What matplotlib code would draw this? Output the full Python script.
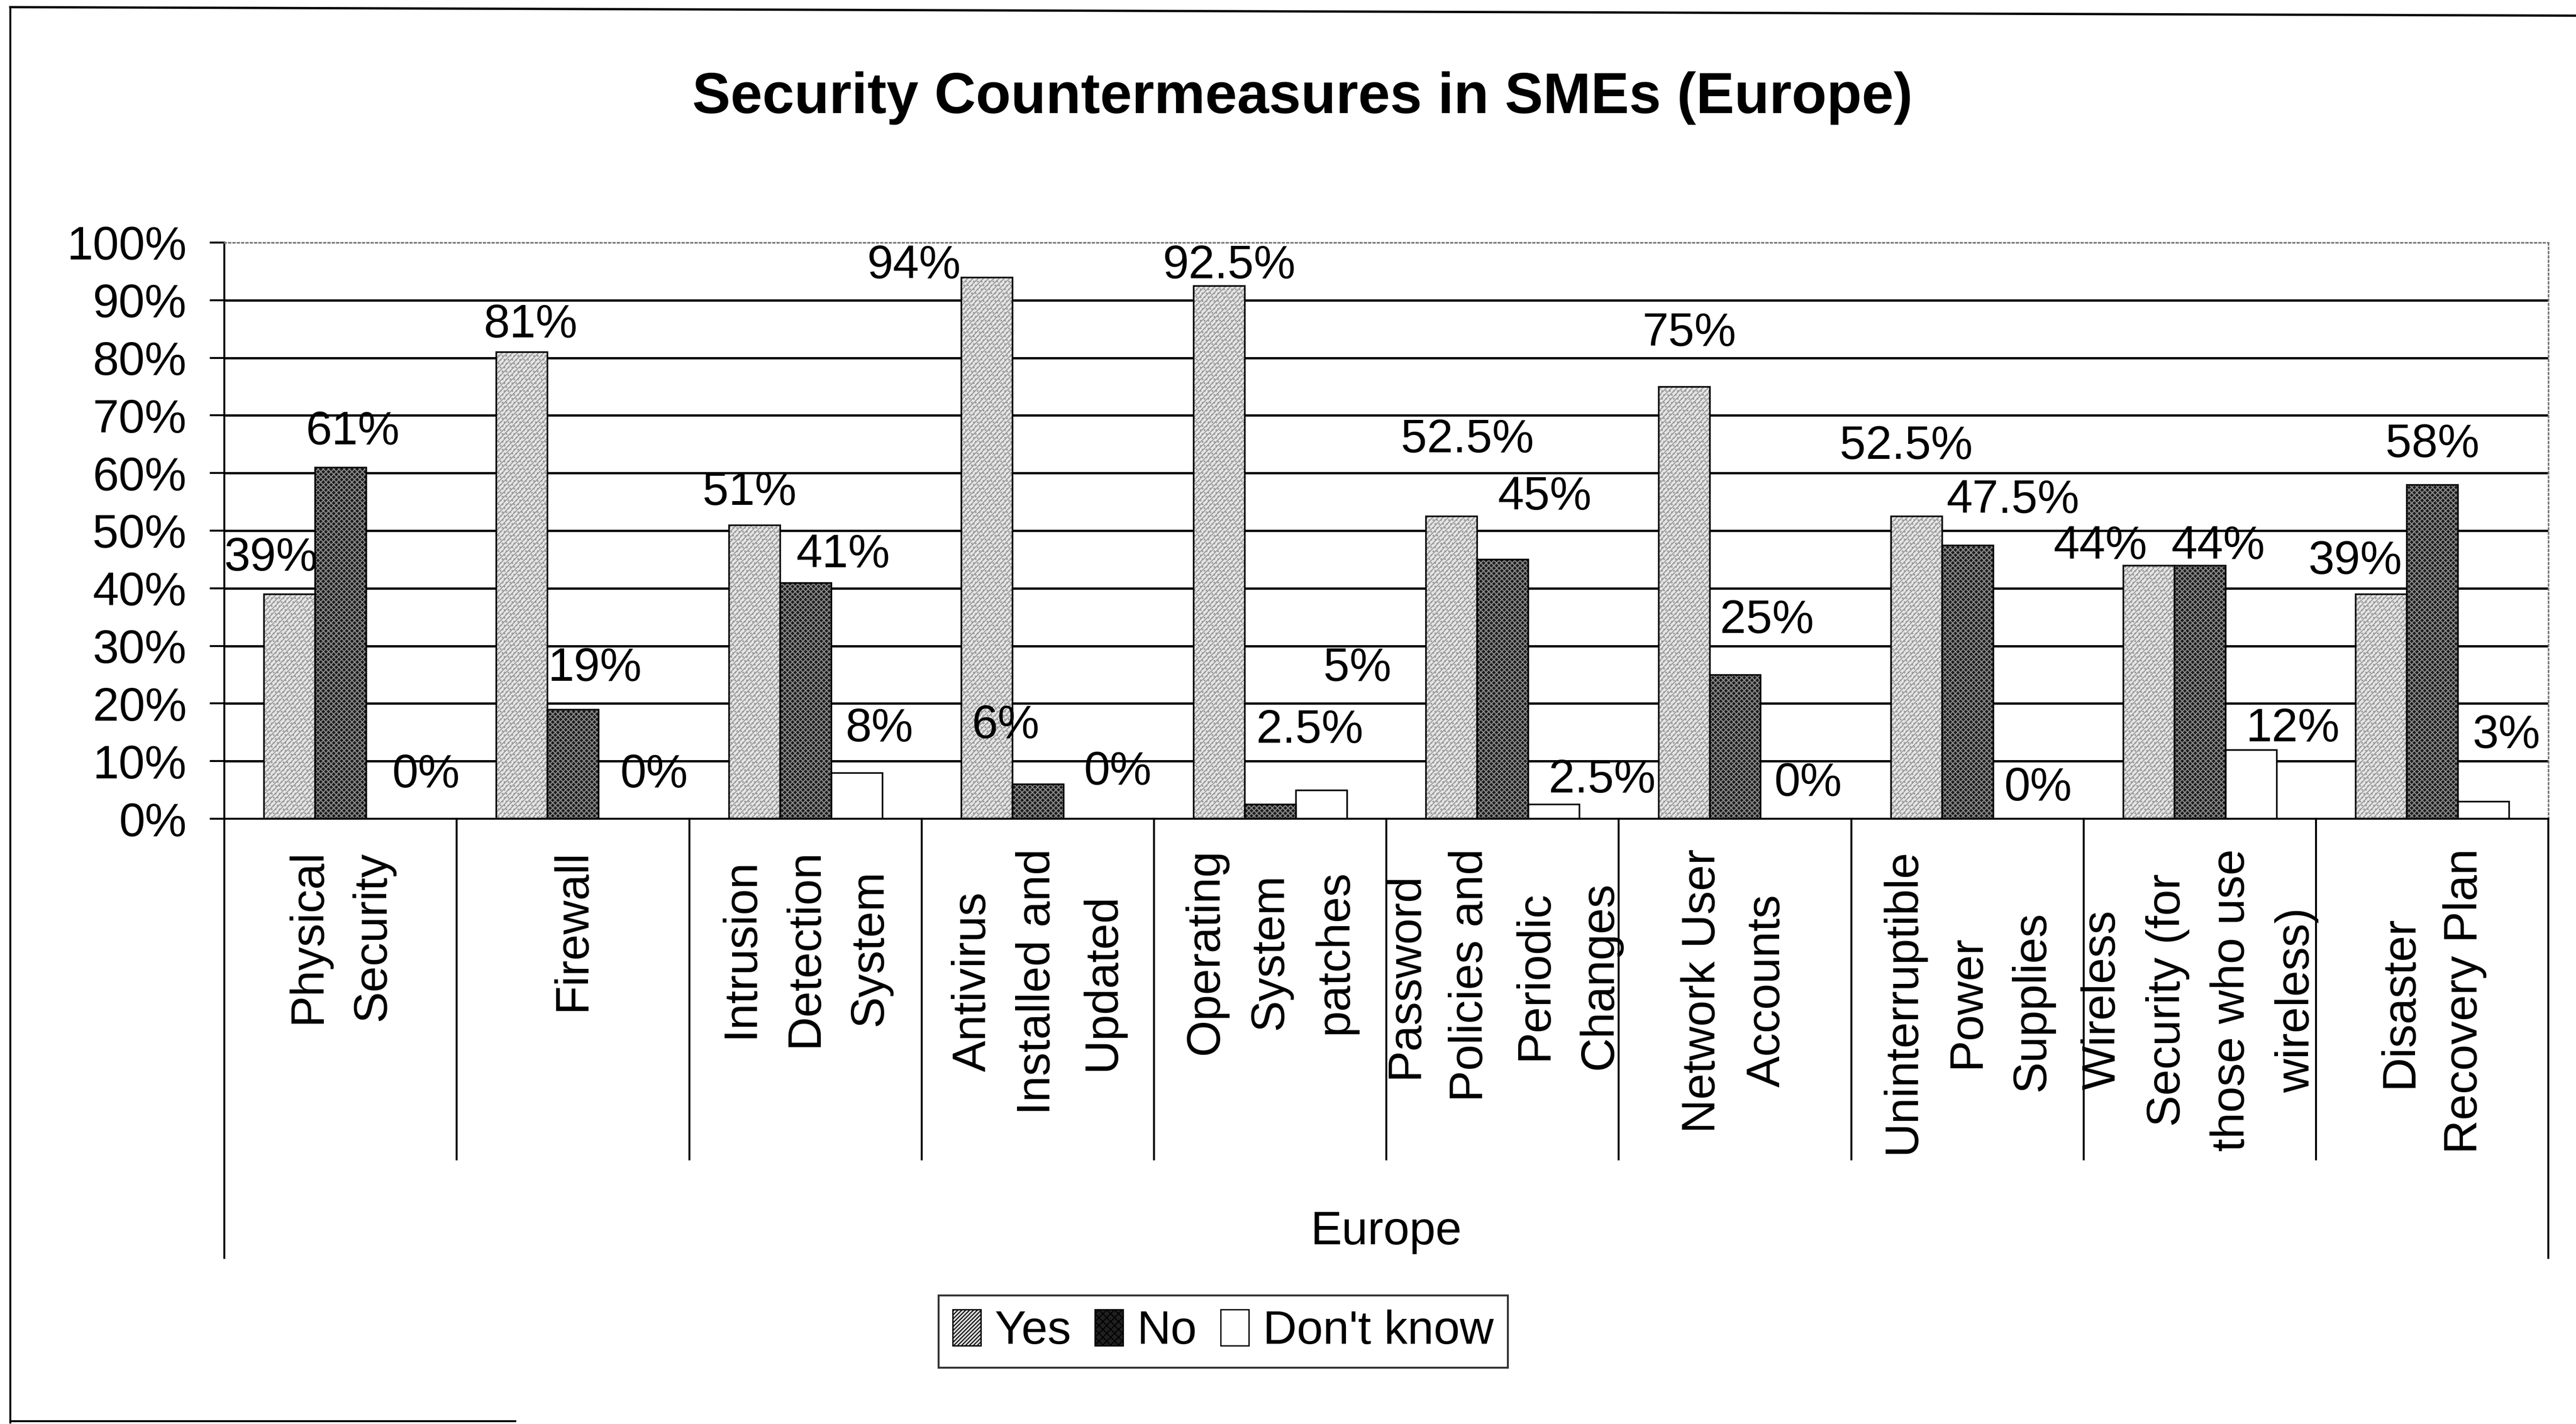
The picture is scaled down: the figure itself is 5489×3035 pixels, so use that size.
import numpy as np
import matplotlib
matplotlib.use("Agg")
import matplotlib.pyplot as plt
from matplotlib.patches import Patch
from matplotlib.lines import Line2D

plt.rcParams['font.family'] = ['Liberation Sans', 'DejaVu Sans']
plt.rcParams['hatch.linewidth'] = 1.6

# data
categories = [
    "Physical\nSecurity",
    "Firewall",
    "Intrusion\nDetection\nSystem",
    "Antivirus\nInstalled and\nUpdated",
    "Operating\nSystem\npatches",
    "Password\nPolicies and\nPeriodic\nChanges",
    "Network User\nAccounts",
    "Uninterruptible\nPower\nSupplies",
    "Wireless\nSecurity (for\nthose who use\nwireless)",
    "Disaster\nRecovery Plan",
]
yes = [39, 81, 51, 94, 92.5, 52.5, 75, 52.5, 44, 39]
no = [61, 19, 41, 6, 2.5, 45, 25, 47.5, 44, 58]
dont_know = [0, 0, 8, 0, 5, 2.5, 0, 0, 12, 3]
series_names = ["Yes", "No", "Don't know"]
group_label = "Europe"
title = "Security Countermeasures in SMEs (Europe)"

# where the (hand-moved) value labels sit: x in category units, y in %
label_x = [
    [0.20, 0.554, 0.866], [1.318, 1.594, 1.849], [2.259, 2.662, 2.818],
    [2.966, 3.362, 3.843], [4.324, 4.67, 4.876], [5.349, 5.681, 5.929],
    [6.304, 6.637, 6.813], [7.237, 7.697, 7.803], [8.072, 8.58, 8.90],
    [9.169, 9.50, 9.818],
]
label_y = [
    [45.2, 67.1, 7.6], [85.7, 26.1, 7.6], [56.6, 45.8, 15.6],
    [95.9, 16.1, 8.1], [95.9, 15.3, 26.1], [65.7, 55.8, 6.7],
    [84.2, 34.4, 6.1], [64.6, 55.2, 5.3], [47.2, 47.2, 15.6],
    [44.6, 64.9, 14.4],
]

def pct(v):
    return ("%g" % v) + "%"

fig = plt.figure(figsize=(54.89, 30.35), dpi=100)
ax = fig.add_axes([0.0871, 0.4250, 0.9022, 0.4047])

n = len(categories)
x = np.arange(n) + 0.5
w = 0.22

styles = [
    dict(face="#e6e6e6", hatch="///..", hcol="#9a9a9a"),
    dict(face="#1c1c1c", hatch="xxx", hcol="#8c8c8c"),
    dict(face="white", hatch=None, hcol="white"),
]

for k, vals in enumerate([yes, no, dont_know]):
    s = styles[k]
    xs = x + (k - 1) * w
    ax.bar(xs, vals, width=w, color=s["face"], hatch=s["hatch"],
           edgecolor=s["hcol"], linewidth=0, zorder=2)
    ax.bar(xs, vals, width=w, fill=False, edgecolor="black",
           linewidth=2.5, zorder=3)

for i in range(n):
    for k, vals in enumerate([yes, no, dont_know]):
        ax.text(label_x[i][k], label_y[i][k], pct(vals[i]), fontsize=72,
                ha="center", va="center", zorder=4)

ax.set_xlim(0, n)
ax.set_ylim(0, 100)
ax.set_yticks(range(0, 101, 10))
ax.set_yticklabels([f"{v}%" for v in range(0, 101, 10)], fontsize=72)
ax.tick_params(axis="y", length=22, width=3, pad=36, direction="out")
ax.set_xticks([])

for v in range(10, 100, 10):
    ax.axhline(v, color="black", lw=3.5, zorder=1)

ax.spines["left"].set_linewidth(3)
ax.spines["bottom"].set_linewidth(3)
ax.spines["top"].set_color("#777777")
ax.spines["top"].set_linestyle(":")
ax.spines["top"].set_linewidth(2.5)
ax.spines["right"].set_color("#777777")
ax.spines["right"].set_linestyle(":")
ax.spines["right"].set_linewidth(2.5)

# multi-level category axis below the plot
tr = ax.get_xaxis_transform()
for b in range(1, n):
    ax.add_line(Line2D([b, b], [0, -0.591], transform=tr, color="black",
                       lw=3, clip_on=False))
for b in [0, n]:
    ax.add_line(Line2D([b, b], [0, -0.762], transform=tr, color="black",
                       lw=3, clip_on=False))
for i, c in enumerate(categories):
    ax.text(x[i], -0.052, c, transform=tr, rotation=90, ha="center",
            va="top", multialignment="center", fontsize=72, linespacing=1.6)
ax.text(n / 2, -0.717, group_label, transform=tr, ha="center",
        va="center", fontsize=72)

fig.text(0.5057, 0.931, title, ha="center", va="center", fontsize=88,
         fontweight="bold")

handles = [
    Patch(facecolor="#dcdcdc", hatch="////", edgecolor="black", linewidth=2),
    Patch(facecolor="#202020", hatch="xx", edgecolor="black", linewidth=2),
    Patch(facecolor="white", edgecolor="black", linewidth=2),
]
leg = fig.legend(handles, series_names, loc="center",
                 bbox_to_anchor=(0.4748, 0.0649), ncol=3, fontsize=72,
                 frameon=True, fancybox=False, edgecolor="black",
                 handlelength=0.6, handleheight=0.8, handletextpad=0.3,
                 columnspacing=0.5, borderpad=0.3, borderaxespad=0)
leg.get_frame().set_linewidth(3)

# outer chart border (scanned page: left, top, part of bottom)
fig.add_artist(Line2D([0.004, 0.004], [0.001, 0.995], color="black", lw=3))
fig.add_artist(Line2D([0.004, 1.0], [0.995, 0.989], color="black", lw=3.5))
fig.add_artist(Line2D([0.004, 0.2], [0.002, 0.002], color="black", lw=3))

fig.savefig("out.png", dpi=100, facecolor="white")
